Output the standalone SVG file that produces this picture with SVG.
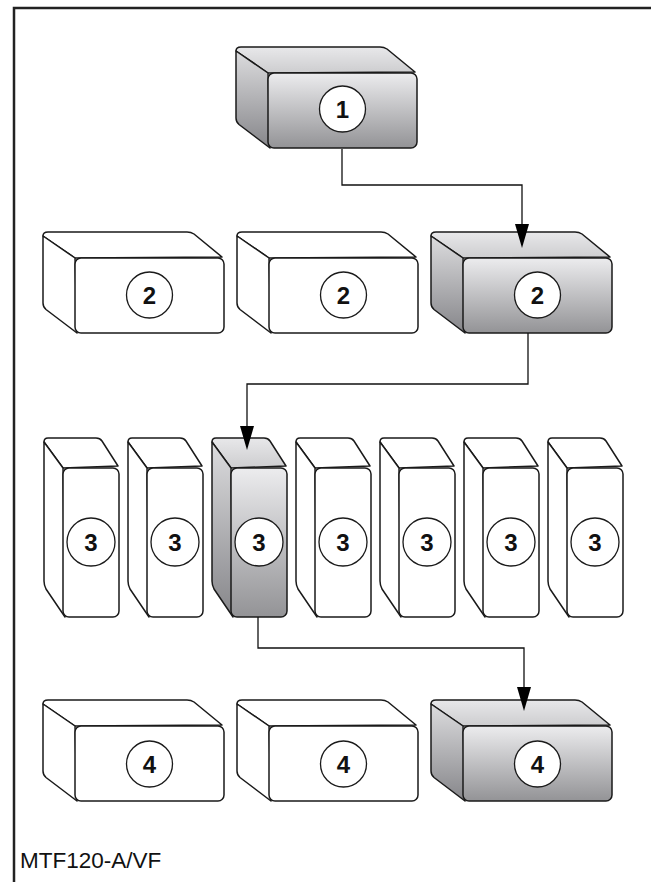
<svg xmlns="http://www.w3.org/2000/svg" xmlns:xlink="http://www.w3.org/1999/xlink" width="651" height="882" viewBox="0 0 651 882">
<style>
.edge{stroke:#1a1a1a;stroke-width:1.5;stroke-linejoin:round}
.w{fill:#ffffff}
.st{fill:url(#gTop)}
.sl{fill:url(#gLeft)}
.sf{fill:url(#gFront)}
.circ{fill:#ffffff;stroke:#1a1a1a;stroke-width:1.3}
.num{font-family:"Liberation Sans",Arial,sans-serif;font-weight:bold;font-size:24px;text-anchor:middle;fill:#111}
.conn{fill:none;stroke:#111;stroke-width:1.3}
.frame{fill:none;stroke:#222;stroke-width:2.5}
.cap{font-family:"Liberation Sans",Arial,sans-serif;font-size:22.5px;fill:#111}
</style>
<defs>
<linearGradient id="gTop" x1="0" y1="0" x2="0" y2="1"><stop offset="0" stop-color="#e8e8ea"/><stop offset="1" stop-color="#cdcdcf"/></linearGradient>
<linearGradient id="gLeft" x1="0" y1="0" x2="0" y2="1"><stop offset="0" stop-color="#dcdcde"/><stop offset="1" stop-color="#86868a"/></linearGradient>
<linearGradient id="gFront" x1="0" y1="0" x2="0" y2="1"><stop offset="0" stop-color="#ececee"/><stop offset="1" stop-color="#939396"/></linearGradient>
<marker id="arr" markerUnits="userSpaceOnUse" markerWidth="24" markerHeight="14" refX="19" refY="7" orient="auto"><path d="M0,0 L24,7 L0,14 Z" fill="#000"/></marker>
<path id="wTop" d="M-32,-22 Q-32,-26 -27,-26 L112,-26 Q116,-26 119,-24 L147,-1 L0,0 Z"/>
<path id="wLeft" d="M-32,-22 L-32,45 Q-32,49 -29,51.5 L2,75 L0,0 Z"/>
<rect id="wFront" x="0" y="0" width="149" height="75" rx="6"/>
<path id="tTop" d="M-19,-26 Q-19,-30 -15,-30 L33,-30 Q37,-30 39,-27 L55,-2 L0,0 Z"/>
<path id="tLeft" d="M-19,-26 L-19,113 Q-19,117 -17,121 L2,149 L0,0 Z"/>
<rect id="tFront" x="0" y="0" width="56" height="149" rx="6"/>
</defs>
<rect x="0" y="0" width="651" height="882" fill="#ffffff"/>
<path class="frame" d="M14,882 V8 H651"/>
<g id="node1" transform="translate(268,73)"><use href="#wTop" class="edge st"/><use href="#wLeft" class="edge sl"/><use href="#wFront" class="edge sf"/><circle class="circ" cx="74.5" cy="36" r="23"/><text class="num" x="74.5" y="44.5">1</text></g>
<g id="node2a" transform="translate(75,258)"><use href="#wTop" class="edge w"/><use href="#wLeft" class="edge w"/><use href="#wFront" class="edge w"/><circle class="circ" cx="74.5" cy="37" r="23"/><text class="num" x="74.5" y="45.5">2</text></g>
<g id="node2b" transform="translate(269,258)"><use href="#wTop" class="edge w"/><use href="#wLeft" class="edge w"/><use href="#wFront" class="edge w"/><circle class="circ" cx="74.5" cy="37" r="23"/><text class="num" x="74.5" y="45.5">2</text></g>
<g id="node2c" transform="translate(463,258)"><use href="#wTop" class="edge st"/><use href="#wLeft" class="edge sl"/><use href="#wFront" class="edge sf"/><circle class="circ" cx="74.5" cy="37" r="23"/><text class="num" x="74.5" y="45.5">2</text></g>
<g id="node3a" transform="translate(63,468)"><use href="#tTop" class="edge w"/><use href="#tLeft" class="edge w"/><use href="#tFront" class="edge w"/><circle class="circ" cx="28" cy="74" r="24"/><text class="num" x="28" y="82.5">3</text></g>
<g id="node3b" transform="translate(147,468)"><use href="#tTop" class="edge w"/><use href="#tLeft" class="edge w"/><use href="#tFront" class="edge w"/><circle class="circ" cx="28" cy="74" r="24"/><text class="num" x="28" y="82.5">3</text></g>
<g id="node3c" transform="translate(231,468)"><use href="#tTop" class="edge st"/><use href="#tLeft" class="edge sl"/><use href="#tFront" class="edge sf"/><circle class="circ" cx="28" cy="74" r="24"/><text class="num" x="28" y="82.5">3</text></g>
<g id="node3d" transform="translate(315,468)"><use href="#tTop" class="edge w"/><use href="#tLeft" class="edge w"/><use href="#tFront" class="edge w"/><circle class="circ" cx="28" cy="74" r="24"/><text class="num" x="28" y="82.5">3</text></g>
<g id="node3e" transform="translate(399,468)"><use href="#tTop" class="edge w"/><use href="#tLeft" class="edge w"/><use href="#tFront" class="edge w"/><circle class="circ" cx="28" cy="74" r="24"/><text class="num" x="28" y="82.5">3</text></g>
<g id="node3f" transform="translate(483,468)"><use href="#tTop" class="edge w"/><use href="#tLeft" class="edge w"/><use href="#tFront" class="edge w"/><circle class="circ" cx="28" cy="74" r="24"/><text class="num" x="28" y="82.5">3</text></g>
<g id="node3g" transform="translate(567,468)"><use href="#tTop" class="edge w"/><use href="#tLeft" class="edge w"/><use href="#tFront" class="edge w"/><circle class="circ" cx="28" cy="74" r="24"/><text class="num" x="28" y="82.5">3</text></g>
<g id="node4a" transform="translate(75,726)"><use href="#wTop" class="edge w"/><use href="#wLeft" class="edge w"/><use href="#wFront" class="edge w"/><circle class="circ" cx="74.5" cy="38" r="23"/><text class="num" x="74.5" y="46.5">4</text></g>
<g id="node4b" transform="translate(269,726)"><use href="#wTop" class="edge w"/><use href="#wLeft" class="edge w"/><use href="#wFront" class="edge w"/><circle class="circ" cx="74.5" cy="38" r="23"/><text class="num" x="74.5" y="46.5">4</text></g>
<g id="node4c" transform="translate(463,726)"><use href="#wTop" class="edge st"/><use href="#wLeft" class="edge sl"/><use href="#wFront" class="edge sf"/><circle class="circ" cx="74.5" cy="38" r="23"/><text class="num" x="74.5" y="46.5">4</text></g>
<g id="connectors">
<path class="conn" d="M342,149 V185 H522 V243" marker-end="url(#arr)"/>
<path class="conn" d="M528,333 V384 H247 V445" marker-end="url(#arr)"/>
<path class="conn" d="M258,617 V648 H524 V706" marker-end="url(#arr)"/>
</g>
<text class="cap" x="20" y="868">MTF120-A/VF</text>
</svg>
